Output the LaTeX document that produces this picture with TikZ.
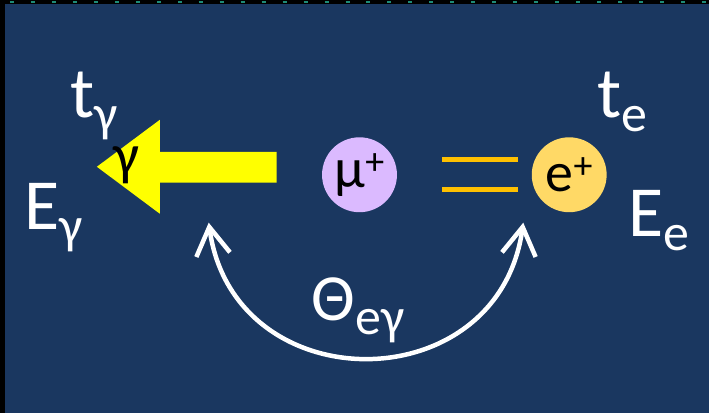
\documentclass[tikz,border=0pt]{standalone}
\usepackage{fontspec}
\setmainfont{Carlito}
\usepackage{tikz}
\usetikzlibrary{arrows.meta, positioning, calc}
\definecolor{night}{HTML}{1A3760}
\definecolor{edgeTeal}{HTML}{1E8C78}
\definecolor{lilac}{HTML}{DBBAFF}
\definecolor{gold}{HTML}{FFD966}
\definecolor{amber}{HTML}{FFC000}
\definecolor{beam}{HTML}{FFFF00}
\newcommand{\lowsub}[1]{\raisebox{-14pt}{\fontsize{52pt}{52pt}\selectfont #1}}
\newcommand{\upsup}[1]{\raisebox{13pt}{\fontsize{38pt}{38pt}\selectfont #1}}

\begin{document}
\begin{tikzpicture}[x=1pt, y=-1pt, font=\fontsize{72pt}{76pt}\selectfont]
    \tikzset{
      lbl/.style={text=white, inner sep=0pt, anchor=base west},
      ball/.style={circle, minimum size=75pt, inner sep=0pt, text=black,
                   font=\fontsize{56pt}{60pt}\selectfont},
      eqline/.style={draw=amber, line width=5pt},
      swing/.style={draw=white, line width=4.5pt,
                    {Straight Barb[length=28pt, width=34pt]}-{Straight Barb[length=28pt, width=34pt]}}
    }
    % frame
    \fill[black] (0,0) rectangle (710,414);
    \fill[night] (5,4) rectangle (710,414);
    \draw[edgeTeal, line width=2pt, dash pattern=on 4pt off 17pt] (10,2) -- (710,2);
    % photon
    \fill[beam] (97,167) -- (160,120) -- (160,152) -- (277,152) -- (277,183)
                -- (160,183) -- (160,214) -- cycle;
    \node[inner sep=0pt, anchor=base, font=\fontsize{58pt}{60pt}\selectfont] (gam) at (127,175) {γ};
    \node[lbl] (tg) at (70,118) {t\lowsub{γ}};
    \node[lbl] (eg) at (24,230) {E\lowsub{γ}};
    % muon and positron
    \node[ball, fill=lilac] (mu) at (360,175) {μ\upsup{+}};
    \node[ball, fill=gold] (ep) at (570,175) {e\upsup{+}};
    \draw[eqline, shorten <=45pt, shorten >=14pt] ([yshift=15pt]mu.east) -- ([yshift=15pt]ep.west);
    \draw[eqline, shorten <=45pt, shorten >=14pt] ([yshift=-15pt]mu.east) -- ([yshift=-15pt]ep.west);
    \node[lbl] (te) at (598,118) {t\lowsub{e}};
    \node[lbl] (ee) at (629,237) {E\lowsub{e}};
    % opening angle
    \coordinate (gtip) at (209,223);
    \coordinate (etip) at (524,223);
    \draw[swing] (gtip) .. controls +(25,180) and +(-25,180) .. (etip);
    \node[lbl, font=\fontsize{66pt}{70pt}\selectfont] (ang) at (312,321) {Θ\lowsub{eγ}};
\end{tikzpicture}
\end{document}
